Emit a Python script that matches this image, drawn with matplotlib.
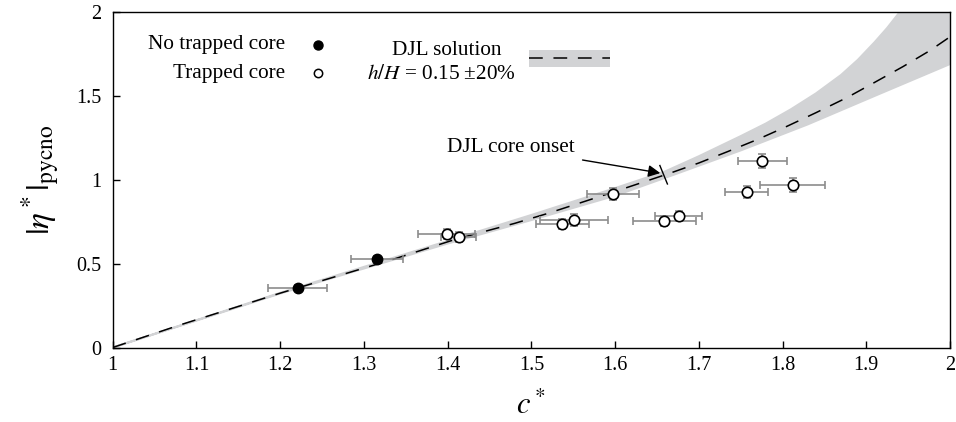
import matplotlib
matplotlib.use("Agg")
from matplotlib import pyplot as plt
from matplotlib.patches import Rectangle

plt.rcParams['font.family'] = ['Liberation Serif', 'DejaVu Serif']
plt.rcParams['mathtext.fontset'] = 'stix'

# measured points, no trapped core
c_solid = [1.221, 1.316]
eta_solid = [0.354, 0.526]
c_solid_err = [0.035, 0.031]
eta_solid_err = [0.02, 0.02]

# measured points, trapped core
c_open = [1.399, 1.413, 1.537, 1.551, 1.598, 1.659, 1.676, 1.757, 1.776, 1.812]
eta_open = [0.676, 0.658, 0.735, 0.761, 0.915, 0.757, 0.783, 0.927, 1.113, 0.970]
c_open_err = [0.034, 0.021, 0.032, 0.041, 0.031, 0.038, 0.028, 0.026, 0.029, 0.039]
eta_open_err = [0.03, 0.03, 0.03, 0.034, 0.037, 0.03, 0.03, 0.035, 0.043, 0.04]

# DJL solution, h/H = 0.15
c_djl = [1.0, 1.08, 1.2, 1.33, 1.41, 1.48, 1.52, 1.6, 1.666, 1.70, 1.735,
         1.77, 1.805, 1.84, 1.877, 1.908, 1.944, 1.976, 2.0]
eta_djl = [0.0, 0.134, 0.324, 0.518, 0.646, 0.74, 0.80, 0.93, 1.04, 1.10, 1.169,
           1.24, 1.318, 1.40, 1.49, 1.575, 1.675, 1.77, 1.852]

# band for h/H +-20%
c_up = [1.0, 1.2, 1.4, 1.5, 1.6, 1.66, 1.70, 1.75, 1.78, 1.81, 1.84, 1.87,
        1.89, 1.91, 1.925, 1.94, 1.97, 2.0]
eta_up = [0.0, 0.326, 0.635, 0.79, 0.95, 1.05, 1.14, 1.26, 1.335, 1.42, 1.515,
          1.625, 1.715, 1.82, 1.905, 2.0, 2.22, 2.46]
c_low = [1.0, 1.2, 1.4, 1.5, 1.6, 1.67, 1.75, 1.83, 1.91, 2.0]
eta_low = [0.0, 0.322, 0.62, 0.76, 0.905, 1.03, 1.175, 1.33, 1.50, 1.69]

# core onset marker
c_onset = [1.6535, 1.6625]
eta_onset = [1.085, 0.975]

fig = plt.figure(figsize=(9.56, 4.22), dpi=100)
ax = fig.add_axes([0.1179, 0.1765, 0.8758, 0.795])

ax.fill(c_up + c_low[::-1], eta_up + eta_low[::-1], color='#d2d3d5',
        lw=1.5, zorder=1)
ax.plot(c_djl, eta_djl, color='k', lw=1.1, ls=(0, (9, 7)), zorder=2)
ax.plot(c_onset, eta_onset, color='k', lw=1.0, zorder=2)

ax.errorbar(c_solid, eta_solid, xerr=c_solid_err, yerr=eta_solid_err, fmt='o',
            color='k', ms=7.5, ecolor='#8c8c8c', elinewidth=1.2, capsize=3,
            capthick=1.2, zorder=3)
ax.errorbar(c_open, eta_open, xerr=c_open_err, yerr=eta_open_err, fmt='o',
            mfc='white', mec='k', mew=1.2, ms=7.5, ecolor='#8c8c8c',
            elinewidth=1.2, capsize=3, capthick=1.2, zorder=3)

ax.annotate('DJL core onset', xy=(1.654, 1.04), xytext=(1.475, 1.19),
            ha='center', va='center', fontsize=15.3,
            arrowprops=dict(arrowstyle='-|>', color='k', lw=1.0,
                            mutation_scale=18, shrinkA=4, shrinkB=0))

# legend drawn by hand
ax.text(0.206, 0.902, 'No trapped core', transform=ax.transAxes,
        ha='right', va='center', fontsize=15.3)
ax.text(0.206, 0.817, 'Trapped core', transform=ax.transAxes,
        ha='right', va='center', fontsize=15.3)
ax.plot([0.245], [0.902], 'o', color='k', ms=6.5, transform=ax.transAxes)
ax.plot([0.245], [0.817], 'o', mfc='white', mec='k', mew=1.1, ms=6,
        transform=ax.transAxes)
ax.text(0.399, 0.885, 'DJL solution', transform=ax.transAxes,
        ha='center', va='center', fontsize=15.3)
ax.text(0.393, 0.815, r'$h/H$ = 0.15 ±20%', transform=ax.transAxes,
        ha='center', va='center', fontsize=15.3)
ax.add_patch(Rectangle((0.497, 0.837), 0.097, 0.05, transform=ax.transAxes,
                       color='#d2d3d5', lw=0))
ax.plot([0.497, 0.594], [0.862, 0.862], color='k', lw=1.1, ls=(0, (9, 7)),
        transform=ax.transAxes)

ax.set_xlim(1, 2)
ax.set_ylim(0, 2)
ax.set_xticks([1, 1.1, 1.2, 1.3, 1.4, 1.5, 1.6, 1.7, 1.8, 1.9, 2])
ax.set_xticklabels(['1', '1.1', '1.2', '1.3', '1.4', '1.5', '1.6', '1.7',
                    '1.8', '1.9', '2'])
ax.set_yticks([0, 0.5, 1, 1.5, 2])
ax.set_yticklabels(['0', '0.5', '1', '1.5', '2'])
ax.tick_params(direction='in', length=5, width=1, labelsize=14.5, pad=6)
ax.tick_params(axis='y', pad=8)
for s in ax.spines.values():
    s.set_linewidth(1.0)

ax.set_xlabel(r'$c^*$', fontsize=22, labelpad=12)
ax.set_ylabel(r'$|\eta^*|_{\rm pycno}$', fontsize=24, labelpad=10)

fig.savefig('out.png', dpi=100)
